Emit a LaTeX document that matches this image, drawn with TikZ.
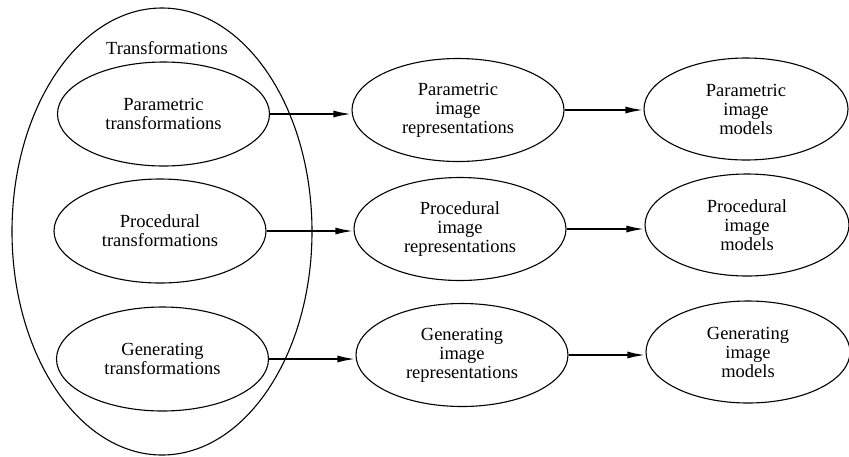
\documentclass[tikz,border=0pt]{standalone}
\usepackage{fontspec}
\setmainfont{Liberation Serif}
\usetikzlibrary{shapes.geometric,arrows.meta}

\tikzset{
  oval/.style={draw, ellipse, line width=1.1pt, inner sep=0pt, align=center,
    font=\fontsize{18.5}{19}\selectfont},
  small/.style={oval, minimum width=212pt, minimum height=104pt},
  mid/.style={oval, minimum width=212pt, minimum height=103pt},
  right/.style={oval, minimum width=204pt, minimum height=102pt},
  flow/.style={line width=1.9pt, -{Latex[length=18pt,width=7pt]}},
}

\begin{document}
\begin{tikzpicture}[x=1pt,y=-1pt]
  \useasboundingbox (0,0) rectangle (849,456);

  % enclosing group of transformations
  \node[draw, ellipse, line width=1.1pt, minimum width=300pt, minimum height=447pt,
        inner sep=0pt] (group) at (162,231.5) {};
  \node[font=\fontsize{18.5}{19}\selectfont] (grouplabel) at (167,48) {Transformations};

  % left column
  \node[small] (t1) at (163.5,114) {Parametric\\transformations};
  \node[small] (t2) at (160,231) {Procedural\\transformations};
  \node[small] (t3) at (162.5,359) {Generating\\transformations};

  % middle column
  \node[mid] (r1) at (458,110) {Parametric\\image\\representations};
  \node[mid] (r2) at (460,229) {Procedural\\image\\representations};
  \node[mid] (r3) at (462,355) {Generating\\image\\representations};

  % right column
  \node[right] (m1) at (746,109) {Parametric\\image\\models};
  \node[right] (m2) at (747,225) {Procedural\\image\\models};
  \node[right] (m3) at (748,352) {Generating\\image\\models};

  % connectors
  \draw[flow] (t1.east) -- (t1.east -| r1.west);
  \draw[flow] (t2.east) -- (t2.east -| r2.west);
  \draw[flow] (t3.east) -- (t3.east -| r3.west);
  \draw[flow] (r1.east) -- (r1.east -| m1.west);
  \draw[flow] (r2.east) -- (r2.east -| m2.west);
  \draw[flow] (r3.east) -- (r3.east -| m3.west);
\end{tikzpicture}
\end{document}
